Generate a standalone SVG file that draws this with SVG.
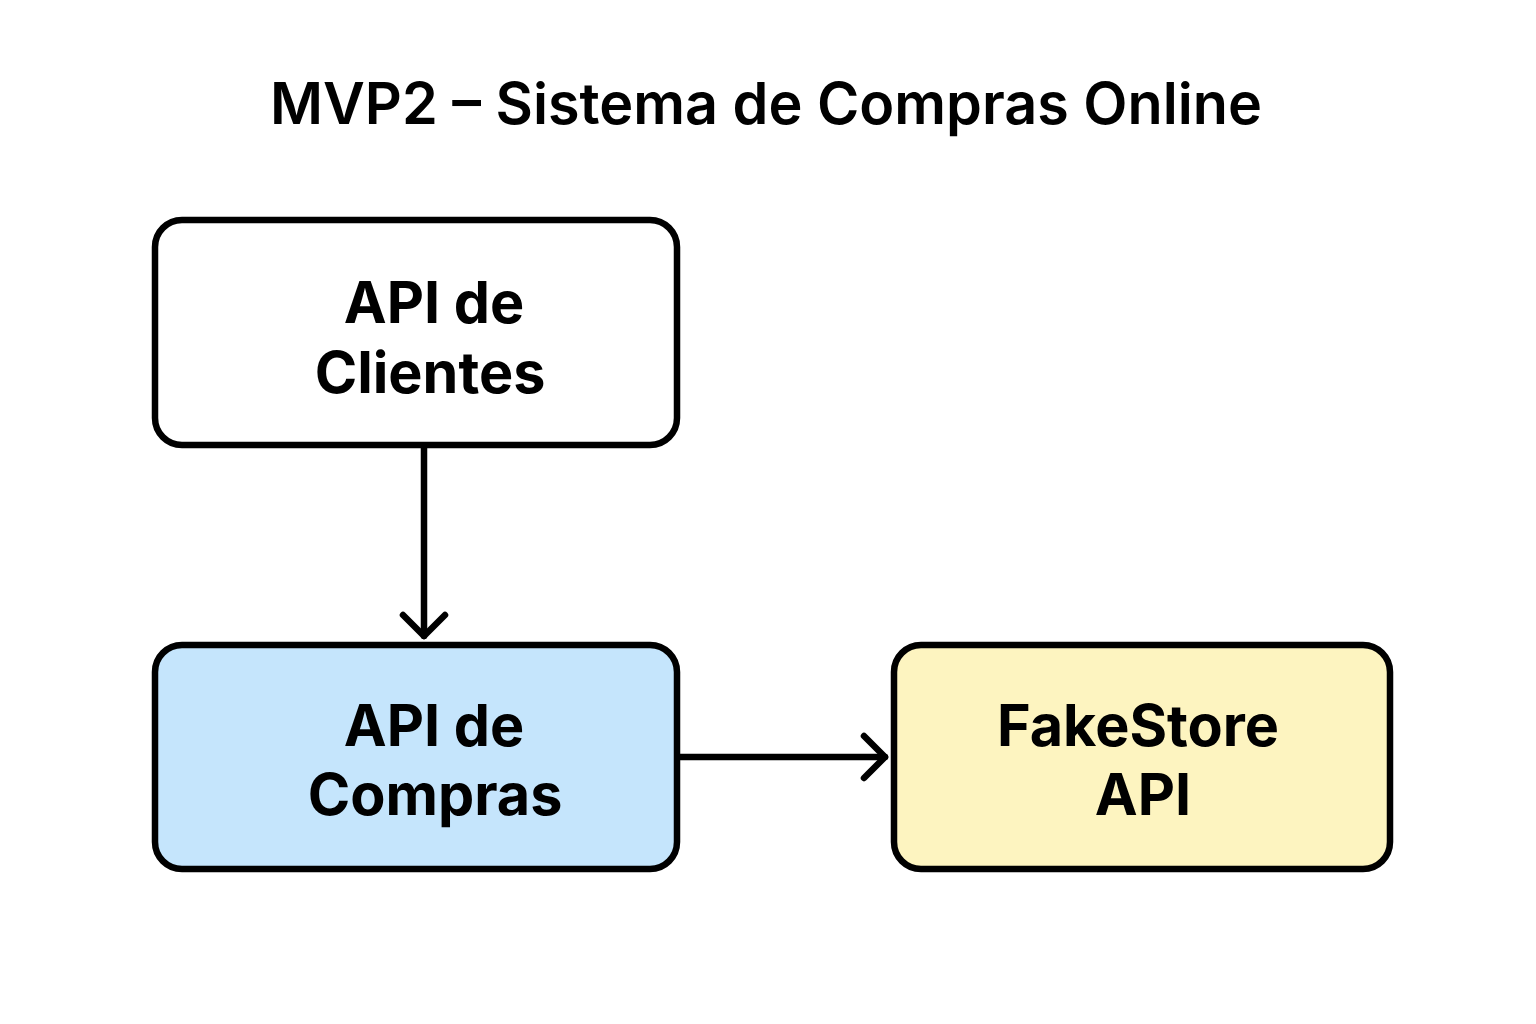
<svg xmlns="http://www.w3.org/2000/svg" width="1536" height="1024" viewBox="0 0 1536 1024">
<style>
.node{stroke:#000;stroke-width:6.5}
.lbl{font-family:Inter,"Noto Sans",sans-serif;font-weight:700;font-size:57.5px;fill:#000;text-anchor:middle}
.title{font-family:Inter,"Noto Sans",sans-serif;font-weight:600;font-size:57.5px;fill:#000;text-anchor:middle}
.con{stroke:#000;stroke-width:6.5;fill:none;stroke-linecap:round;stroke-linejoin:round}
</style>
<rect width="1536" height="1024" fill="#fff"/>
<text class="title" x="766" y="124">MVP2 – Sistema de Compras Online</text>
<g id="connectors">
<path class="con" d="M424 448 V636"/>
<path class="con" d="M403 615 L424 636 L445 615"/>
<path class="con" d="M680 757 H885"/>
<path class="con" d="M864 736 L885 757 L864 778"/>
</g>
<g id="api-clientes">
<rect class="node" x="155" y="220" width="522" height="225" rx="27" fill="#fff"/>
<text class="lbl" x="434" y="323">API de</text>
<text class="lbl" x="430" y="393">Clientes</text>
</g>
<g id="api-compras">
<rect class="node" x="155" y="645" width="522" height="224" rx="27" fill="#c5e5fc"/>
<text class="lbl" x="434" y="746">API de</text>
<text class="lbl" x="435" y="815">Compras</text>
</g>
<g id="fakestore-api">
<rect class="node" x="894" y="645" width="496" height="224" rx="27" fill="#fdf4c0"/>
<text class="lbl" x="1138" y="746">FakeStore</text>
<text class="lbl" x="1143" y="815">API</text>
</g>
</svg>
